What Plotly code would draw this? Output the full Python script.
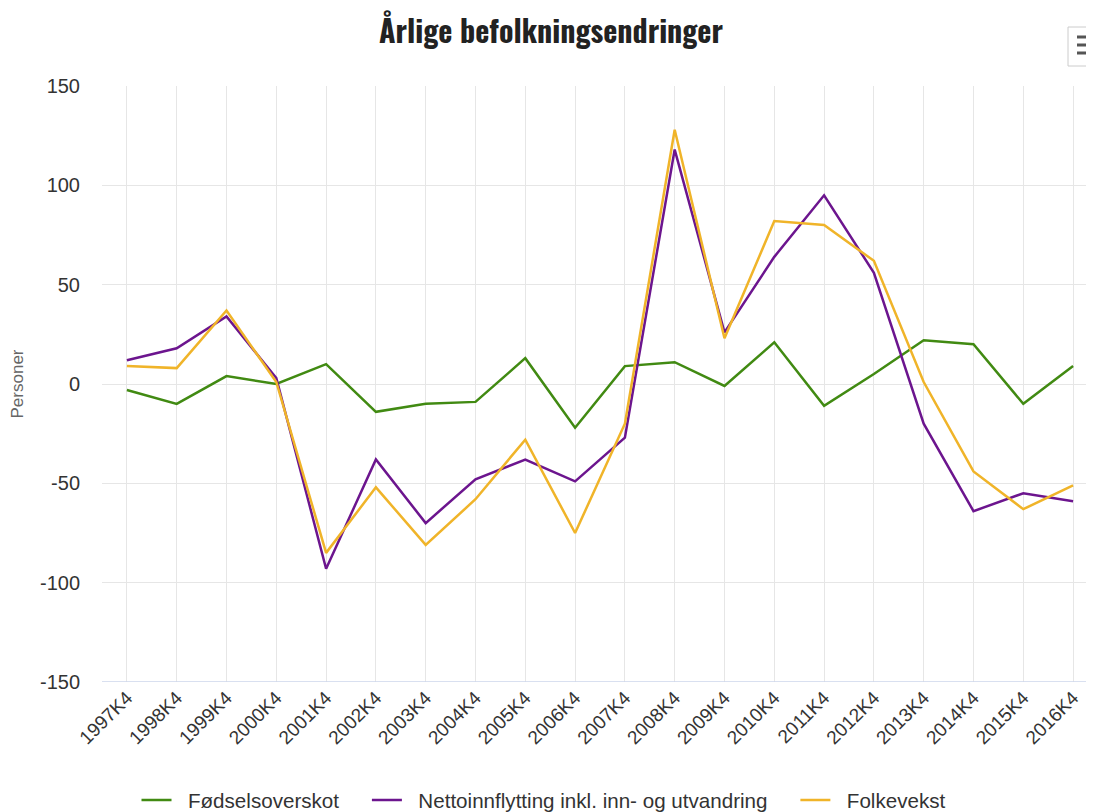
import plotly.graph_objects as go

categories = ["1997K4", "1998K4", "1999K4", "2000K4", "2001K4", "2002K4", "2003K4",
              "2004K4", "2005K4", "2006K4", "2007K4", "2008K4", "2009K4", "2010K4",
              "2011K4", "2012K4", "2013K4", "2014K4", "2015K4", "2016K4"]

fodselsoverskot = [-3, -10, 4, 0, 10, -14, -10, -9, 13, -22, 9, 11, -1, 21, -11, 5, 22, 20, -10, 9]
nettoinnflytting = [12, 18, 34, 3, -93, -38, -70, -48, -38, -49, -27, 118, 26, 64, 95, 56, -20, -64, -55, -59]
folkevekst = [9, 8, 37, 1, -85, -52, -81, -58, -28, -75, -20, 128, 23, 82, 80, 62, 1, -44, -63, -51]

series_names = ["Fødselsoverskot", "Nettoinnflytting inkl. inn- og utvandring", "Folkevekst"]
series_colors = ["#418a12", "#6c158e", "#f0b429"]
y_ticks = [-150, -100, -50, 0, 50, 100, 150]
y_ticktext = [str(v) for v in y_ticks]

# page has an 8px body margin; figure coordinates = screen - 8
OFF = 8
W, H = 1094 - OFF, 812 - OFF
L, R, T, B = 102 - OFF, 0, 86 - OFF, 130
PW, PH = W - L - R, H - T - B


def px_x(x):
    return (x - OFF - L) / PW


def px_y(y):
    return (H - B - (y - OFF)) / PH


NB = "\u00a0"
fig = go.Figure()
n = len(series_names)
for i, (name, vals, col) in enumerate(zip(series_names, [fodselsoverskot, nettoinnflytting, folkevekst], series_colors)):
    label = NB * 2 + name + (NB * 4 if i < n - 1 else "")
    fig.add_trace(go.Scatter(
        x=list(range(len(categories))), y=vals, name=label, mode="lines",
        line=dict(color=col, width=2.5),
    ))

menu_shapes = [
    dict(type="rect", xref="paper", yref="paper", x0=px_x(1068), x1=px_x(1104),
         y0=px_y(66), y1=px_y(27), line=dict(color="#cccccc", width=1),
         fillcolor="white", layer="above"),
] + [
    dict(type="line", xref="paper", yref="paper", x0=px_x(1077), x1=px_x(1100),
         y0=px_y(yy), y1=px_y(yy), line=dict(color="#555555", width=3), layer="above")
    for yy in (37, 45, 53)
]

fig.update_layout(
    width=W, height=H,
    paper_bgcolor="white", plot_bgcolor="white",
    margin=dict(l=L, r=R, t=T, b=B, autoexpand=False),
    title=dict(text="<b>Årlige befolkningsendringer</b>", x=(551 - OFF) / W, xanchor="center",
               xref="container", y=1 - (32 - OFF) / H, yanchor="middle", yref="container",
               font=dict(family="Oswald, 'DejaVu Sans Condensed', sans-serif", size=30, color="#222222")),
    font=dict(family="'Liberation Sans', Arial, sans-serif", color="#333333"),
    showlegend=True,
    legend=dict(orientation="h", x=(544 - OFF) / W, xref="container", xanchor="center",
                y=1 - (800 - OFF) / H, yref="container", yanchor="middle",
                font=dict(size=20.6, color="#333333"), tracegroupgap=0),
    xaxis=dict(
        range=[-0.5, 19.42],
        tickmode="array", tickvals=list(range(len(categories))), ticktext=categories,
        tickangle=-45, tickfont=dict(size=19, color="#333333"),
        showgrid=True, gridcolor="#e6e6e6", gridwidth=1,
        zeroline=False, showline=False, ticks="", fixedrange=True, automargin=False,
    ),
    yaxis=dict(
        range=[-150, 150], tickmode="array", tickvals=y_ticks, ticktext=y_ticktext,
        tickfont=dict(size=20, color="#333333"), ticklabelstandoff=21,
        showgrid=True, gridcolor="#e6e6e6", gridwidth=1,
        zeroline=False, showline=False, ticks="", automargin=False,
        title=dict(text="Personer", font=dict(size=17, color="#666666"), standoff=12),
    ),
    shapes=[
        dict(type="line", xref="paper", yref="y", x0=0, x1=1, y0=-150, y1=-150,
             line=dict(color="#ccd6eb", width=1.5)),
    ] + menu_shapes,
)

fig.write_html("out.html", config={"displayModeBar": False})
